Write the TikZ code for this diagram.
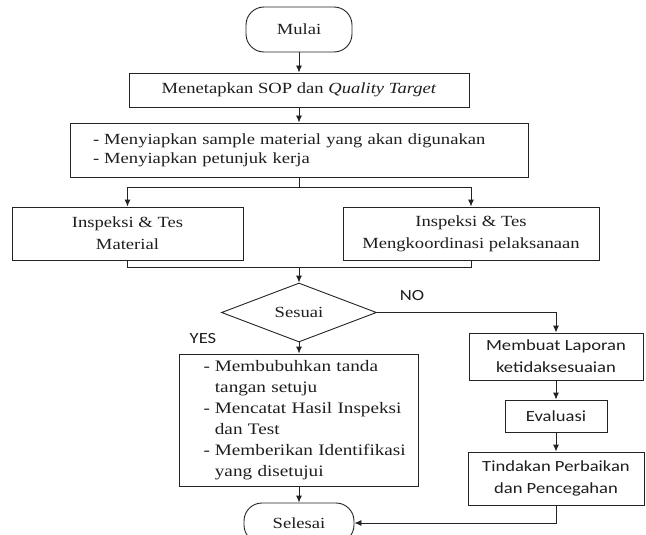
\documentclass[tikz,border=0pt]{standalone}
\usepackage{fontspec}
\setmainfont{Liberation Serif}[FakeStretch=1.2]
\newfontfamily\calibfont{Carlito}[FakeStretch=1.2]
\usetikzlibrary{arrows.meta,shapes.geometric,calc}
\definecolor{LineClr}{RGB}{35,35,35}
\definecolor{TextClr}{RGB}{30,30,30}

\begin{document}
\begin{tikzpicture}[x=1pt,y=-1pt,line width=0.9pt,
  box/.style={draw=LineClr,rectangle,inner sep=0pt,align=center,text=TextClr,
    font=\fontsize{15.5}{22}\selectfont},
  endbox/.style={box,rounded corners=18pt},
  sansbox/.style={box,font=\calibfont\fontsize{15.5}{22}\selectfont},
  decision/.style={box,diamond},
  arr/.style={draw=LineClr,-{Latex[length=7pt,width=6pt]}},
  link/.style={draw=LineClr}]

\useasboundingbox (0,0) rectangle (646,535);
\clip (0,0) rectangle (646,535);

% Start and the two preparation steps.
\node[endbox,minimum width=106pt,minimum height=45pt] (mulai) at (299,29.5) {Mulai};
\node[box,minimum width=340pt,minimum height=34pt] (sop) at (299,90)
  {Menetapkan SOP dan \textit{Quality Target}};
\node[box,minimum width=458pt,minimum height=54pt,text width=412pt,align=left,
  font=\fontsize{15.5}{20}\selectfont] (siap) at (299,150)
  {\begin{tabular}{@{}l@{\hspace{5pt}}l@{}}
   - & Menyiapkan sample material yang akan digunakan\\
   - & Menyiapkan petunjuk kerja
   \end{tabular}};

% The two inspection boxes.
\node[box,minimum width=231pt,minimum height=53pt] (kiri) at (127.5,233.5)
  {Inspeksi \& Tes\\Material};
\node[box,minimum width=256pt,minimum height=53pt] (kanan) at (471,233.5)
  {Inspeksi \& Tes\\Mengkoordinasi pelaksanaan};

% Decision.
\node[decision,minimum width=155pt,minimum height=57pt] (sesuai) at (299,312.5) {Sesuai};

% YES branch.
\node[box,minimum width=239pt,minimum height=132pt,text width=191pt,align=left,
  font=\fontsize{16}{21}\selectfont] (setuju) at (299,420)
  {\begin{tabular}{@{}l@{\hspace{5pt}}l@{}}
   - & Membubuhkan tanda\\
     & tangan setuju\\
   - & Mencatat Hasil Inspeksi\\
     & dan Test\\
   - & Memberikan Identifikasi\\
     & yang disetujui
   \end{tabular}};
\node[endbox,minimum width=110pt,minimum height=40pt] (selesai) at (299,523) {Selesai};

% NO branch.
\node[sansbox,minimum width=174pt,minimum height=47pt] (laporan) at (556,356.5)
  {Membuat Laporan\\ketidaksesuaian};
\node[sansbox,minimum width=102pt,minimum height=32pt] (evaluasi) at (556,416) {Evaluasi};
\node[sansbox,minimum width=176pt,minimum height=53pt] (tindakan) at (556,478.5)
  {Tindakan Perbaikan\\dan Pencegahan};

% Branch labels.
\node[text=TextClr,font=\calibfont\fontsize{15.5}{18}\selectfont] (yes) at (203,339) {YES};
\node[text=TextClr,font=\calibfont\fontsize{15.5}{18}\selectfont] (no) at (412,296) {NO};

% Connectors.
\draw[arr] (mulai) -- (sop);
\draw[arr] (sop) -- (siap);
\draw[link] (siap.south) -- ++(0,10) coordinate (pisah);
\draw[arr] (pisah) -| (kiri.north);
\draw[arr] (pisah) -| (kanan.north);
\coordinate (gabung) at ($(sesuai.north)+(0,-15.5)$);
\draw[link] (kiri.south) |- (gabung) -| (kanan.south);
\draw[arr] (gabung) -- (sesuai.north);
\draw[arr] (sesuai.south) -- (setuju.north);
\draw[arr] (setuju.south) -- (selesai.north);
\draw[arr] (sesuai.east) -| (laporan.north);
\draw[arr] (laporan) -- (evaluasi);
\draw[arr] (evaluasi) -- (tindakan);
\draw[arr] (tindakan.south) |- (selesai.east);

\end{tikzpicture}
\end{document}
